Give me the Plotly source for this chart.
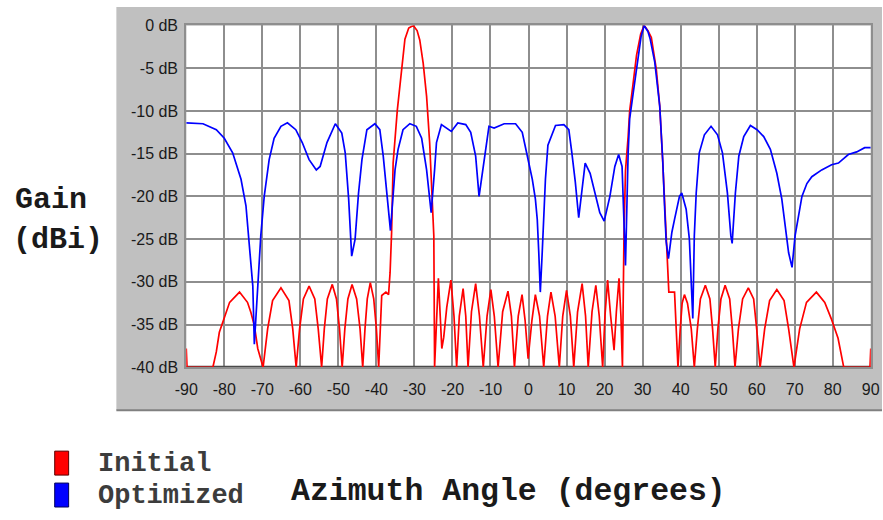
import plotly.graph_objects as go

# ---------------- data ----------------
angle_initial = [
    -90, -89.8, -83.0, -82.1, -81.3, -80.0, -78.6, -76.0, -73.9, -73.0, -72.1, -71.2, -69.8,
    -68.6, -67.3, -65.1, -63.0, -62.0, -61.1,
    -60.2, -59.2, -57.7, -56.2, -55.3, -54.4,
    -53.7, -52.9, -51.6, -50.5, -49.7, -49.0,
    -48.3, -47.5, -46.4, -45.2, -44.3, -43.6,
    -43.0, -42.4, -41.6, -40.7, -40.0, -39.4,
    -38.6, -37.5, -36.8, -36.4, -36.0, -35.6, -34.5, -33.4, -32.5, -31.5, -30.3, -29.3, -28.6,
    -27.7, -26.8, -26.0, -25.4, -24.9, -24.7,
    -23.7, -22.8, -22.3, -21.5, -20.4, -19.6, -18.9, -18.2, -17.2, -16.5, -15.9, -15.0, -13.9,
    -12.9, -11.9, -10.9, -9.9, -9.0, -8.0, -6.8, -5.4, -4.5, -3.7, -2.7, -1.7, -0.9, -0.1,
    0.9, 1.8, 2.9, 4.0, 5.0, 5.9, 7.0, 8.1, 9.0, 10.0, 11.0, 11.9, 12.9, 14.1, 15.0, 15.7,
    16.7, 17.7, 18.6, 19.5, 20.1, 20.8, 21.6, 22.5, 23.1, 23.8, 24.3, 24.7,
    25.1, 25.5, 26.2, 26.6, 27.5, 28.4, 29.5, 30.4, 31.4, 32.3, 33.6, 34.5, 35.3, 36.2, 36.6,
    36.9, 38.4, 39.3,
    39.9, 40.4, 41.0, 41.8, 42.8, 43.6,
    44.4, 45.2, 46.5, 47.7, 48.4, 49.1,
    49.8, 50.6, 51.7, 52.9, 53.6, 54.3,
    55.2, 56.3, 57.8, 59.2, 60.0, 60.9,
    62.1, 63.4, 65.3, 67.2, 68.4, 69.8,
    71.3, 73.1, 75.7, 77.9, 79.6, 81.4, 82.9, 89.8, 90,
]
gain_initial = [
    -37.8, -40, -40, -38.2, -35.9, -34.3, -32.4, -31.2, -32.4, -33.6, -35.1, -37.8, -40,
    -35.5, -32.2, -30.7, -32.2, -35.5, -40,
    -35.5, -32.0, -30.5, -32.0, -35.5, -40,
    -35.5, -32.0, -30.3, -32.0, -35.5, -40,
    -35.5, -32.0, -30.3, -32.0, -35.5, -40,
    -35.5, -32.0, -30.1, -32.0, -35.5, -40,
    -31.6, -31.2, -31.5, -28.9, -24.2, -16.1, -9.9, -5.0, -1.6, -0.3, 0, -0.6, -1.7,
    -4.4, -8.3, -13.7, -20.7, -24.6, -40,
    -29.6, -37.8, -36.5, -33.0, -29.8, -34.0, -40, -34.0, -30.8, -34.0, -40, -33.5, -30.2,
    -34.0, -40, -34.0, -30.9, -34.0, -40, -33.5, -31.1, -34.0, -40, -34.0, -31.5, -34.5, -39.0,
    -34.5, -31.5, -34.0, -40, -34.0, -31.2, -34.0, -40, -34.0, -31.0, -34.0, -40, -33.5, -30.2, -34.0, -40,
    -33.5, -30.4, -34.0, -40, -34.0, -29.8, -34.0, -38.0, -33.5, -29.6, -34.0, -40,
    -24.6, -17.0, -13.0, -10.0, -6.8, -3.5, -1.0, 0, -0.6, -1.4, -5.1, -9.4, -16.0, -24.2, -28.0,
    -31.2, -31.2, -40,
    -35.5, -32.5, -31.5, -32.5, -35.5, -40,
    -35.5, -32.0, -30.4, -32.0, -35.5, -40,
    -35.5, -32.0, -30.4, -32.0, -35.5, -40,
    -35.5, -32.0, -30.7, -32.0, -35.5, -40,
    -35.5, -32.2, -30.9, -32.2, -35.5, -40,
    -35.5, -32.4, -31.2, -32.4, -34.3, -36.6, -40, -40, -37.8,
]

angle_optimized = [
    -90, -85.6, -82.1, -80.0, -77.8, -75.6, -74.3, -73.4, -72.5, -72.1, -71.2, -70.4, -69.5,
    -68.2, -66.9, -65.1, -63.4, -61.2, -59.5, -57.7, -55.8, -54.8, -53.0, -50.8, -49.1, -48.2,
    -47.3, -46.9, -46.5, -45.6, -44.7, -43.8, -42.5, -40.4, -39.1, -38.2, -37.3, -36.6, -36.3,
    -35.1, -34.3, -33.0, -31.2, -29.5, -28.1, -26.8, -26.0, -25.6, -24.7, -24.2, -22.9, -21.6,
    -20.3, -18.6, -16.5, -15.2, -13.9, -13.0, -12.1, -11.2, -10.4, -9.05, -6.4, -3.4, -1.65,
    -0.3, 1.0, 1.8, 2.3, 2.7, 3.1, 3.6, 4.0, 4.45, 5.1, 6.2, 7.1, 9.3, 10.6, 11.4, 12.3, 13.2,
    14.1, 14.9, 16.2, 17.5, 18.75, 19.9, 21.4, 22.7, 23.7, 24.6, 25.3, 25.5, 26.2, 26.6, 27.5,
    28.4, 29.6, 30.4, 31.4, 32.0, 33.2, 34.5, 35.3, 35.8, 36.2, 36.8, 37.7, 38.4, 39.7, 40.3,
    41.45, 42.3, 42.8, 43.2, 43.6, 44.1, 44.9, 46.25, 48.0, 49.7, 51.0, 52.3, 53.2, 53.55,
    54.4, 55.3, 56.6, 58.35, 60.1, 61.85, 63.6, 65.3, 66.6, 67.5, 68.4, 69.3, 70.1, 71.0,
    71.9, 73.2, 74.5, 77.1, 79.7, 81.5, 84.1, 86.3, 88.4, 90,
]
gain_optimized = [
    -11.4, -11.5, -12.2, -13.2, -14.9, -18.0, -21.1, -25.8, -30.5, -37.3, -29.7, -24.6, -20.0,
    -15.7, -13.2, -11.8, -11.4, -12.2, -13.7, -15.7, -16.9, -16.5, -13.7, -11.5, -12.6, -14.9,
    -20.3, -24.2, -27.0, -25.0, -19.6, -15.7, -12.2, -11.5, -12.2, -15.3, -19.6, -22.7, -24.0,
    -16.9, -14.5, -12.2, -11.5, -11.8, -13.2, -16.9, -20.0, -21.9, -16.9, -13.7, -11.6, -12.0,
    -12.4, -11.4, -11.6, -12.5, -15.3, -20.0, -17.3, -14.6, -11.8, -12.0, -11.5, -11.5, -12.5,
    -15.3, -18.0, -20.3, -22.7, -26.6, -31.2, -26.6, -22.3, -18.0, -14.0, -12.8, -11.7, -11.6,
    -12.2, -14.9, -18.3, -22.5, -18.7, -16.1, -17.3, -19.5, -21.9, -22.9, -20.0, -16.5, -15.1,
    -16.5, -24.6, -28.1, -14.9, -10.9, -8.0, -5.0, -1.3, 0, -0.7, -1.6, -4.3, -9.4, -15.8,
    -21.4, -25.3, -27.3, -24.2, -22.7, -20.0, -19.6, -21.5, -25.0, -31.2, -34.3, -24.6, -19.6,
    -14.9, -12.8, -11.8, -12.8, -14.9, -19.6, -24.6, -25.5, -19.6, -15.3, -13.0, -11.7, -12.2,
    -13.0, -14.5, -17.3, -20.3, -23.4, -26.6, -28.3, -24.6, -22.3, -20.0, -18.5, -17.7, -16.9,
    -16.3, -16.1, -15.1, -14.8, -14.3, -14.3,
]

x_ticks = list(range(-90, 91, 10))
x_tick_labels = [str(v) for v in x_ticks]
y_ticks = list(range(0, -41, -5))
y_tick_labels = [f"{v} dB" for v in y_ticks]

series_names = ["Initial", "Optimized"]
series_colors = ["#ff0000", "#0000ff"]

# ---------------- layout geometry (reference pixel frame) ----------------
W, H = 883, 520
L, R, T, B = 183.3, 871.7, 25.5, 368.0


def px(x):
    return x / W


def py(y):
    return 1 - y / H


fig = go.Figure()
fig.add_trace(go.Scatter(x=angle_initial, y=gain_initial, mode="lines",
                         line=dict(color=series_colors[0], width=1.7),
                         name=series_names[0], showlegend=False))
fig.add_trace(go.Scatter(x=angle_optimized, y=gain_optimized, mode="lines",
                         line=dict(color=series_colors[1], width=1.7),
                         name=series_names[1], showlegend=False))

grid_col = "#8e8e8e"
fig.update_layout(
    autosize=True,
    margin=dict(l=0, r=0, t=0, b=0),
    paper_bgcolor="white", plot_bgcolor="white",
    xaxis=dict(domain=[px(L), px(R)], range=[-90, 90], tickvals=x_ticks, ticktext=x_tick_labels,
               showgrid=True, gridcolor=grid_col, gridwidth=2, zeroline=False,
               showline=True, mirror=True, linecolor=grid_col, linewidth=2,
               ticks="", ticklabelstandoff=7,
               tickfont=dict(family="Liberation Sans", size=16, color="#1a1a1a")),
    yaxis=dict(domain=[py(B), py(T)], range=[-40, 0], tickvals=y_ticks, ticktext=y_tick_labels,
               showgrid=True, gridcolor=grid_col, gridwidth=2, zeroline=False,
               showline=True, mirror=True, linecolor=grid_col, linewidth=2,
               ticks="", ticklabelstandoff=3,
               tickfont=dict(family="Liberation Sans", size=16, color="#1a1a1a")),
)

shapes = [
    # gray panel
    dict(type="rect", xref="paper", yref="paper", x0=px(113), x1=1.0, y0=py(411), y1=py(7),
         fillcolor="#c0c0c0", line=dict(width=0), layer="below"),
    dict(type="line", xref="paper", yref="paper", x0=px(113), x1=1.0, y0=py(411), y1=py(411),
         line=dict(color="#808080", width=2), layer="below"),
    # white plotting area
    dict(type="rect", xref="x", yref="y", x0=-90, x1=90, y0=-40, y1=0,
         fillcolor="white", line=dict(width=0), layer="below"),
    # dark baseline
    dict(type="line", xref="x", yref="y", x0=-90, x1=90, y0=-40, y1=-40,
         line=dict(color="#4a4a4a", width=3), layer="between"),
    # legend swatches
    dict(type="rect", xref="paper", yref="paper", x0=px(51), x1=px(65), y0=py(476), y1=py(452),
         fillcolor=series_colors[0], line=dict(color="#5a0000", width=1)),
    dict(type="rect", xref="paper", yref="paper", x0=px(51), x1=px(65), y0=py(508), y1=py(484),
         fillcolor=series_colors[1], line=dict(color="#00005a", width=1)),
]
fig.update_layout(shapes=shapes)

mono_bold = dict(family="Liberation Mono", weight="bold")
annotations = [
    dict(text="Gain", x=px(9), y=py(200), font=dict(size=30, color="#1a1a1a", **mono_bold)),
    dict(text="(dBi)", x=px(7), y=py(240), font=dict(size=30, color="#1a1a1a", **mono_bold)),
    dict(text="Azimuth Angle (degrees)", x=px(287), y=py(492),
         font=dict(size=31.5, color="#1a1a1a", **mono_bold)),
    dict(text=series_names[0], x=px(93), y=py(465), font=dict(size=27, color="#3c3c3c", **mono_bold)),
    dict(text=series_names[1], x=px(93), y=py(497), font=dict(size=27, color="#3c3c3c", **mono_bold)),
]
for a in annotations:
    a.update(xref="paper", yref="paper", xanchor="left", yanchor="middle", showarrow=False)
fig.update_layout(annotations=annotations)

# the page body keeps its default 8px margin; pull the figure div over it so it fills the page
fig.write_html(
    "out.html",
    default_width="899px;margin:-8px",
    default_height="536px",
)
